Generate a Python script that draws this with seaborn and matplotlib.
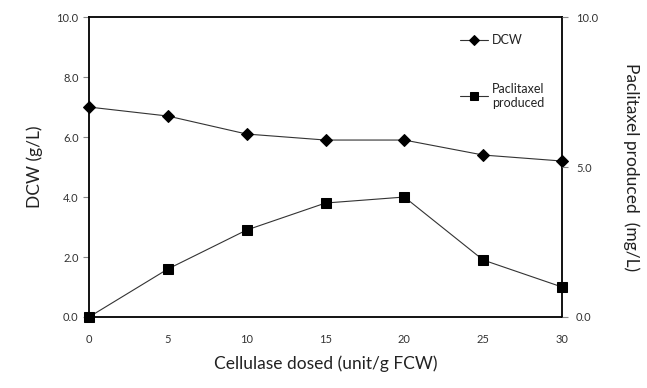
import matplotlib
matplotlib.use("Agg")
import matplotlib.pyplot as plt
import seaborn as sns
import pandas as pd

cellulase = [0, 5, 10, 15, 20, 25, 30]
dcw = [7.0, 6.7, 6.1, 5.9, 5.9, 5.4, 5.2]
paclitaxel = [0.0, 1.6, 2.9, 3.8, 4.0, 1.9, 1.0]
x_ticks = [0, 5, 10, 15, 20, 25, 30]
left_ticks = [0, 2, 4, 6, 8, 10]
right_ticks = [0, 5, 10]

sns.set_style("white")
plt.rcParams['font.family'] = ['Lato', 'DejaVu Sans']

df = pd.DataFrame({"x": cellulase, "dcw": dcw, "pac": paclitaxel})

fig = plt.figure(figsize=(6.47, 3.88), dpi=100)
ax = fig.add_axes([0.1376, 0.183, 0.731, 0.773])

sns.lineplot(data=df, x="x", y="dcw", ax=ax, color="#333333", lw=0.8,
             marker="D", markersize=6.5, markerfacecolor="black",
             markeredgecolor="black", label="DCW", clip_on=False, zorder=5)
sns.lineplot(data=df, x="x", y="pac", ax=ax, color="#333333", lw=0.8,
             marker="s", markersize=7.5, markerfacecolor="black",
             markeredgecolor="black", label="Paclitaxel\nproduced", clip_on=False, zorder=5)

ax.set_xlim(0, 30)
ax.set_ylim(0, 10)
ax.set_xticks(x_ticks)
ax.set_yticks(left_ticks)
ax.set_yticklabels([f"{v:.1f}" for v in left_ticks])
ax.tick_params(axis="both", direction="out", length=4, width=0.8, color="#888888",
               labelsize=8, labelcolor="#333333")
ax.tick_params(axis="x", pad=8)
for s in ax.spines.values():
    s.set_visible(True)
    s.set_color("black")
    s.set_linewidth(1.3)
ax.set_xlabel("Cellulase dosed (unit/g FCW)", fontsize=12.5, color="#222222", labelpad=8)
ax.set_ylabel("DCW (g/L)", fontsize=12.5, color="#222222", labelpad=10)

ax2 = ax.twinx()
ax2.set_ylim(0, 10)
ax2.set_yticks(right_ticks)
ax2.set_yticklabels([f"{v:.1f}" for v in right_ticks])
ax2.tick_params(axis="y", direction="out", length=4, width=0.8, color="#888888",
                labelsize=8, labelcolor="#333333", pad=6)
for s in ax2.spines.values():
    s.set_visible(False)
ax2.set_ylabel("Paclitaxel produced  (mg/L)", fontsize=12.5, color="#222222",
               rotation=270, labelpad=30)

leg = ax.legend(loc="upper left", bbox_to_anchor=(0.76, 0.98), frameon=False,
                fontsize=9, handlelength=2.3, labelspacing=2.9, handletextpad=0.3,
                markerscale=0.85)
for t in leg.get_texts():
    t.set_color("#222222")

fig.savefig("out.png", dpi=100)
